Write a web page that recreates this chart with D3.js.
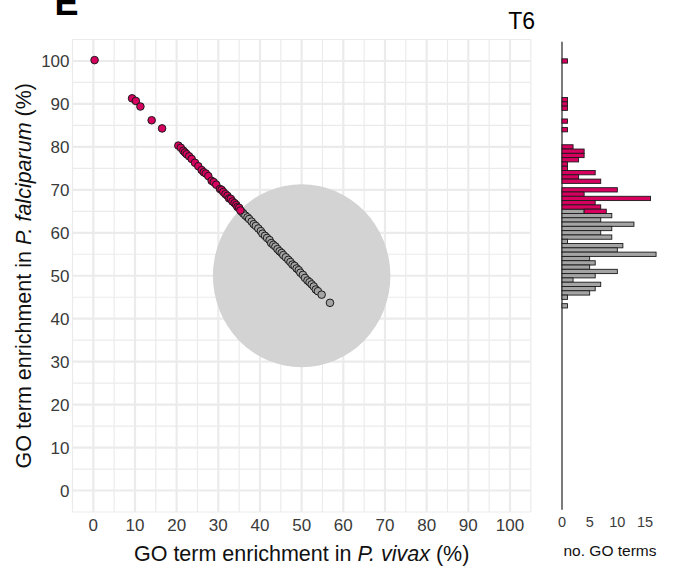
<!DOCTYPE html>
<html><head><meta charset="utf-8">
<script src="https://cdn.jsdelivr.net/npm/d3@7"></script>
<style>
html,body{margin:0;padding:0;background:#fff;}
svg{display:block;font-family:"Liberation Sans",Arial,Helvetica,sans-serif;}
</style></head>
<body>
<svg id="chart" width="678" height="570"></svg>
<script>
// ---- data ----
const panelLabel = "E";
const chartTitle = "T6";
const xTicks = [0,10,20,30,40,50,60,70,80,90,100];
const yTicks = [0,10,20,30,40,50,60,70,80,90,100];
const histTicks = [0,5,10,15];

// scatter points: P. vivax (%) and P. falciparum (%) enrichment
const pinkVivax = [0.3,9.3,10.2,11.3,14,16.5,20.4,21,21.6,22,22.4,23,23.6,24.4,25.2,26,26.5,27,27.6,28.4,28.9,29.5,30.4,30.8,31.2,31.7,32.2,32.6,33,33.4,33.9,34.3,34.6,35,35.3];
const pinkFalci = [100.2,91.3,90.7,89.4,86.2,84.3,80.3,79.8,79.1,78.7,78.3,77.8,77.2,76.3,75.5,74.6,74.1,73.8,73.2,72.1,71.8,71.2,70.2,70,69.5,69,68.6,68,67.9,67.3,66.9,66.5,66,65.8,65.2];
const grayVivax = [35.6,36,36.5,37,37.4,38,38.5,39,39.6,40.2,40.6,41.2,41.7,42.3,42.7,43.2,43.7,44.2,44.7,45.2,45.6,46.2,46.8,47.3,47.8,48.3,48.8,49.3,49.7,50.3,50.8,51.4,51.9,52.4,52.9,53.4,53.9,54.8,56.8];
const grayFalci = [64.9,64.5,64,63.6,63.2,62.6,62,61.6,61,60.4,59.8,59.3,58.8,58.3,57.6,57.2,56.8,56.2,55.7,55.3,54.8,54.3,53.7,53.2,52.6,52.3,51.7,51.3,50.7,50.2,49.5,48.9,48.5,48,47.5,46.8,46.4,45.6,43.7];

// shaded region
const circleCenter = [50, 50];
const circleRadius = 21.3;

// histogram of P. falciparum enrichment (1% bins, labelled by bin centre)
const histBins  = [100,91,90,89,86,84,80,79,78,77,76,75,74,73,72,71,70,69,68,67,66,65,64,63,62,61,60,59,58,57,56,55,54,53,52,51,50,49,48,47,46,45,44,43];
const histGray  = [0,0,0,0,0,0,0,0,0,0,0,0,0,0,0,0,0,0,0,0,0,4,9,7,13,9,7,9,1,11,10,17,5,6,5,10,6,2,7,6,5,1,0,1];
const histPink  = [1,1,1,1,1,1,2,4,4,3,1,1,6,3,7,0,10,4,16,6,7,4,0,0,0,0,0,0,0,0,0,0,0,0,0,0,0,0,0,0,0,0,0,0];

// ---- styles ----
const PINK = "#d6005f", GRAY = "#a4a4a4", SHADE = "#d3d3d3", GRID = "#ebebeb", TXT = "#3a3a3a";

const svg = d3.select("#chart");
const x = d3.scaleLinear().domain([-5,105]).range([72.5,530.8]);
const y = d3.scaleLinear().domain([-5,105]).range([512,39.5]);
const hx = d3.scaleLinear().domain([0,15]).range([562,645]);

// grid
const g = svg.append("g");
const minor = d3.range(-5,106,10);
g.selectAll(".mnx").data(minor).join("line")
  .attr("x1",d=>x(d)).attr("x2",d=>x(d)).attr("y1",y(-5)).attr("y2",y(105))
  .attr("stroke",GRID).attr("stroke-width",1.2);
g.selectAll(".mny").data(minor).join("line")
  .attr("y1",d=>y(d)).attr("y2",d=>y(d)).attr("x1",x(-5)).attr("x2",x(105))
  .attr("stroke",GRID).attr("stroke-width",1.2);
g.selectAll(".mjx").data(xTicks).join("line")
  .attr("x1",d=>x(d)).attr("x2",d=>x(d)).attr("y1",y(-5)).attr("y2",y(105))
  .attr("stroke",GRID).attr("stroke-width",2.2);
g.selectAll(".mjy").data(yTicks).join("line")
  .attr("y1",d=>y(d)).attr("y2",d=>y(d)).attr("x1",x(-5)).attr("x2",x(105))
  .attr("stroke",GRID).attr("stroke-width",2.2);

// shaded circle
svg.append("ellipse")
  .attr("cx",x(circleCenter[0])).attr("cy",y(circleCenter[1]))
  .attr("rx",x(circleCenter[0]+circleRadius)-x(circleCenter[0]))
  .attr("ry",y(circleCenter[1]-circleRadius)-y(circleCenter[1]))
  .attr("fill",SHADE);

// points
const gray = grayVivax.map((v,i)=>({x:v,y:grayFalci[i]}));
const pink = pinkVivax.map((v,i)=>({x:v,y:pinkFalci[i]}));
svg.append("g").selectAll("circle").data(gray).join("circle")
  .attr("cx",d=>x(d.x)).attr("cy",d=>y(d.y)).attr("r",3.8)
  .attr("fill",GRAY).attr("stroke","#1a1a1a").attr("stroke-width",1);
svg.append("g").selectAll("circle").data(pink).join("circle")
  .attr("cx",d=>x(d.x)).attr("cy",d=>y(d.y)).attr("r",3.8)
  .attr("fill",PINK).attr("stroke","#1a1a1a").attr("stroke-width",1);

// axis tick labels
svg.append("g").selectAll("text").data(xTicks).join("text")
  .attr("x",d=>x(d)).attr("y",531).attr("text-anchor","middle")
  .attr("font-size",17).attr("fill",TXT).text(d=>d);
svg.append("g").selectAll("text").data(yTicks).join("text")
  .attr("x",69.5).attr("y",d=>y(d)).attr("dy","0.36em").attr("text-anchor","end")
  .attr("font-size",17).attr("fill",TXT).text(d=>d);

// axis titles
const xt = svg.append("text").attr("x",x(50)).attr("y",561).attr("text-anchor","middle")
  .attr("font-size",21.5).attr("fill","#111");
xt.append("tspan").text("GO term enrichment in ");
xt.append("tspan").attr("font-style","italic").text("P. vivax");
xt.append("tspan").text(" (%)");

const yt = svg.append("text").attr("transform",`translate(31,${y(50)}) rotate(-90)`)
  .attr("text-anchor","middle").attr("font-size",21.5).attr("fill","#111");
yt.append("tspan").text("GO term enrichment in ");
yt.append("tspan").attr("font-style","italic").text("P. falciparum");
yt.append("tspan").text(" (%)");

// titles
svg.append("text").attr("x",54.5).attr("y",15).attr("font-size",36).attr("font-weight","bold")
  .attr("fill","#000").text(panelLabel);
svg.append("text").attr("x",535).attr("y",28.5).attr("text-anchor","end").attr("font-size",23)
  .attr("fill","#000").text(chartTitle);

// histogram
const hist = histBins.map((b,i)=>({b, g:histGray[i], p:histPink[i]}));
const hg = svg.append("g");
hg.append("line").attr("x1",hx(0)).attr("x2",hx(0)).attr("y1",y(-4.5)).attr("y2",y(104.5))
  .attr("stroke","#222").attr("stroke-width",1.2);
hg.selectAll(".hgr").data(hist.filter(d=>d.g>0)).join("rect")
  .attr("x",hx(0)).attr("width",d=>hx(d.g)-hx(0))
  .attr("y",d=>y(d.b+0.5)).attr("height",d=>y(d.b-0.5)-y(d.b+0.5))
  .attr("fill",GRAY).attr("stroke","#1a1a1a").attr("stroke-width",0.9);
hg.selectAll(".hpk").data(hist.filter(d=>d.p>0)).join("rect")
  .attr("x",d=>hx(d.g)).attr("width",d=>hx(d.g+d.p)-hx(d.g))
  .attr("y",d=>y(d.b+0.5)).attr("height",d=>y(d.b-0.5)-y(d.b+0.5))
  .attr("fill",PINK).attr("stroke","#1a1a1a").attr("stroke-width",0.9);

svg.append("g").selectAll("text").data(histTicks).join("text")
  .attr("x",d=>hx(d)).attr("y",527).attr("text-anchor","middle")
  .attr("font-size",14.5).attr("fill",TXT).text(d=>d);
svg.append("text").attr("x",610).attr("y",556).attr("text-anchor","middle")
  .attr("font-size",15.5).attr("fill","#111").text("no. GO terms");
</script>
</body></html>
